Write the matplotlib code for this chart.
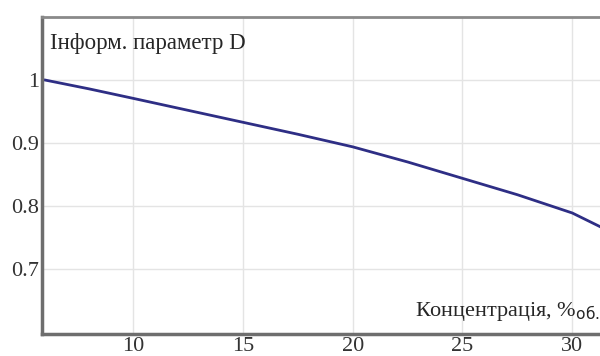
import matplotlib
matplotlib.use("Agg")
from matplotlib import pyplot as plt

# values
conc = [6.0, 8.0, 10.0, 12.5, 15.0, 17.5, 20.0, 22.5, 25.0, 27.5, 30.0, 31.4]
d_param = [1.0, 0.986, 0.971, 0.952, 0.933, 0.914, 0.894, 0.870, 0.844, 0.818, 0.789, 0.765]

x_ticks = [10, 15, 20, 25, 30]
y_ticks = [0.7, 0.8, 0.9, 1.0]
y_labels = ["0.7", "0.8", "0.9", "1"]

plt.rcParams["font.family"] = ["Liberation Serif", "DejaVu Serif"]

fig = plt.figure(figsize=(6.0, 3.56), dpi=100)
ax = fig.add_axes([0.07, 0.062, 0.935, 0.89])

ax.plot(conc, d_param, "-", color="#2e2e85", linewidth=2.0)

ax.set_xlim(5.85, 31.4)
ax.set_ylim(0.597, 1.1)
ax.set_xticks(x_ticks)
ax.set_yticks(y_ticks)
ax.set_yticklabels(y_labels)
ax.grid(color="#e4e4e4", linewidth=1.0)
ax.tick_params(length=0, labelsize=16, colors="#333333")
ax.tick_params(axis="x", pad=2.5)
ax.tick_params(axis="y", pad=2)

for side in ["left", "bottom"]:
    ax.spines[side].set_color("#6e6e6e")
    ax.spines[side].set_linewidth(2.5)
ax.spines["top"].set_color("#8a8a8a")
ax.spines["top"].set_linewidth(2.0)
ax.spines["right"].set_visible(False)

ax.text(0.014, 0.918, "Інформ. параметр D", transform=ax.transAxes,
        fontsize=16.5, color="#262626", va="center", ha="left")
ax.text(0.995, 0.072, "Концентрація, %$_{\\mathrm{об.}}$", transform=ax.transAxes,
        fontsize=16, color="#262626", va="center", ha="right")

fig.savefig("out.png", dpi=100)
